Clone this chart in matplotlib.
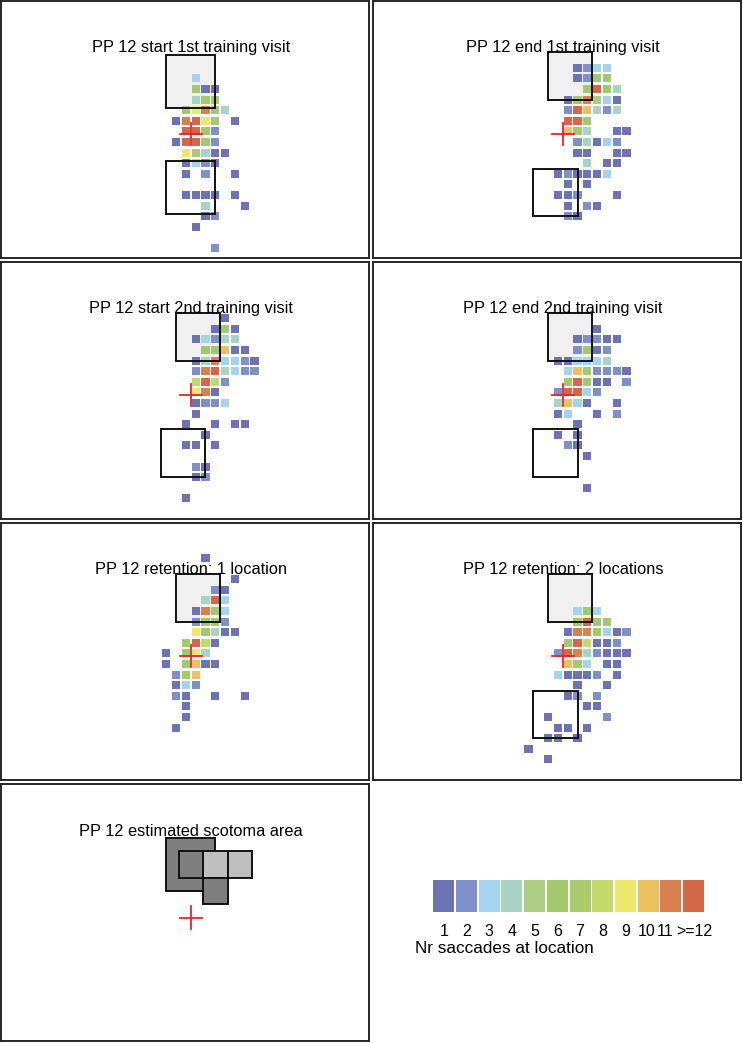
import numpy as np
import matplotlib.pyplot as plt
from matplotlib.patches import Rectangle

plt.rcParams['font.family'] = ['Liberation Sans', 'DejaVu Sans']

# colour scale: number of saccades landing in a 1x1 deg bin
count_labels = ['1', '2', '3', '4', '5', '6', '7', '8', '9', '10', '11', '>=12']
count_colors = ['#6d72b2', '#7e90c6', '#a5d3ee', '#a8d3c5', '#abcd84', '#a4c86d',
                '#aecb6c', '#c5d86c', '#ede86c', '#edc05f', '#d97f50', '#d4664a']

titles = ['PP 12 start 1st training visit', 'PP 12 end 1st training visit',
          'PP 12 start 2nd training visit', 'PP 12 end 2nd training visit',
          'PP 12 retention: 1 location', 'PP 12 retention: 2 locations',
          'PP 12 estimated scotoma area']

# (column bin, row bin, count) -- bin 0 is just right of / at fixation
start1 = [(0, 5, 3),
          (0, 4, 6), (1, 4, 1), (2, 4, 1),
          (0, 3, 4), (1, 3, 6), (2, 3, 6),
          (-1, 2, 6), (0, 2, 9), (1, 2, 11), (2, 2, 6), (3, 2, 4),
          (-2, 1, 1), (-1, 1, 11), (0, 1, 12), (1, 1, 9), (2, 1, 6), (4, 1, 1),
          (-1, 0, 12), (0, 0, 12), (1, 0, 6), (2, 0, 2),
          (-2, -1, 1), (-1, -1, 12), (0, -1, 12), (1, -1, 6), (2, -1, 2),
          (-1, -2, 9), (0, -2, 7), (1, -2, 4), (2, -2, 1), (3, -2, 1),
          (-1, -3, 1), (0, -3, 3), (1, -3, 2), (2, -3, 1),
          (-1, -4, 1), (1, -4, 2), (4, -4, 1),
          (-1, -6, 1), (0, -6, 1), (1, -6, 1), (2, -6, 1), (4, -6, 1),
          (1, -7, 4), (5, -7, 1),
          (1, -8, 1), (2, -8, 2),
          (0, -9, 1),
          (2, -11, 2)]

end1 = [(1, 6, 1), (2, 6, 2), (3, 6, 3), (4, 6, 3),
        (1, 5, 1), (2, 5, 2), (3, 5, 6), (4, 5, 6),
        (2, 4, 6), (3, 4, 12), (4, 4, 6), (5, 4, 4),
        (0, 3, 1), (1, 3, 6), (2, 3, 11), (3, 3, 5), (4, 3, 3), (5, 3, 1),
        (0, 2, 2), (1, 2, 12), (2, 2, 10), (3, 2, 4), (4, 2, 2), (5, 2, 4),
        (0, 1, 12), (1, 1, 12), (2, 1, 6),
        (0, 0, 10), (1, 0, 6), (2, 0, 4), (5, 0, 1), (6, 0, 1),
        (1, -1, 2), (2, -1, 4), (3, -1, 1), (4, -1, 3), (5, -1, 2),
        (1, -2, 1), (2, -2, 1), (5, -2, 1), (6, -2, 1),
        (2, -3, 4), (4, -3, 1), (5, -3, 1),
        (-1, -4, 1), (0, -4, 2), (1, -4, 1), (2, -4, 1), (3, -4, 1), (4, -4, 3),
        (0, -5, 1), (2, -5, 1),
        (-1, -6, 1), (0, -6, 1), (1, -6, 2), (5, -6, 1),
        (0, -7, 1), (2, -7, 2), (3, -7, 1),
        (0, -8, 2), (1, -8, 1)]

start2 = [(3, 7, 1),
          (2, 6, 1), (3, 6, 6), (4, 6, 1),
          (0, 5, 1), (1, 5, 3), (2, 5, 2), (3, 5, 4), (4, 5, 4),
          (1, 4, 6), (2, 4, 6), (3, 4, 10), (4, 4, 1), (5, 4, 1),
          (0, 3, 1), (1, 3, 4), (2, 3, 11), (3, 3, 3), (4, 3, 3), (5, 3, 2), (6, 3, 1),
          (0, 2, 2), (1, 2, 11), (2, 2, 12), (3, 2, 4), (4, 2, 3), (5, 2, 2), (6, 2, 2),
          (0, 1, 8), (1, 1, 12), (2, 1, 8), (3, 1, 2),
          (0, 0, 9), (1, 0, 11), (2, 0, 1),
          (0, -1, 1), (1, -1, 2), (2, -1, 2), (3, -1, 3),
          (0, -2, 1),
          (-1, -3, 1), (2, -3, 1), (4, -3, 1), (5, -3, 1),
          (1, -4, 1),
          (-1, -5, 1), (0, -5, 1), (2, -5, 1),
          (0, -7, 2), (1, -7, 1),
          (0, -8, 1), (1, -8, 2),
          (-1, -10, 1)]

end2 = [(3, 6, 1),
        (1, 5, 1), (2, 5, 2), (3, 5, 2), (4, 5, 1), (5, 5, 1),
        (1, 4, 2), (2, 4, 6), (3, 4, 1), (4, 4, 2),
        (-1, 3, 1), (0, 3, 1), (1, 3, 3), (2, 3, 3), (3, 3, 3), (4, 3, 4),
        (0, 2, 3), (1, 2, 10), (2, 2, 6), (3, 2, 2), (4, 2, 2), (5, 2, 2), (6, 2, 1),
        (0, 1, 6), (1, 1, 12), (2, 1, 6), (3, 1, 1), (4, 1, 1), (6, 1, 2),
        (-1, 0, 2), (0, 0, 12), (1, 0, 12), (2, 0, 3), (3, 0, 2),
        (-1, -1, 4), (0, -1, 10), (1, -1, 3), (2, -1, 1), (5, -1, 1),
        (-1, -2, 1), (0, -2, 3), (3, -2, 1), (5, -2, 2),
        (1, -3, 1),
        (-1, -4, 1), (1, -4, 1),
        (0, -5, 2), (1, -5, 1),
        (2, -6, 1),
        (2, -9, 1)]

ret1 = [(1, 9, 1),
        (4, 7, 1),
        (2, 6, 2), (3, 6, 1),
        (1, 5, 4), (2, 5, 12), (3, 5, 3),
        (0, 4, 1), (1, 4, 11), (2, 4, 6), (3, 4, 3),
        (0, 3, 2), (1, 3, 6), (2, 3, 6), (3, 3, 2),
        (0, 2, 9), (1, 2, 6), (2, 2, 4), (3, 2, 1), (4, 2, 1),
        (-1, 1, 6), (0, 1, 12), (1, 1, 8), (2, 1, 1),
        (-3, 0, 1), (-1, 0, 6), (0, 0, 9), (1, 0, 4),
        (-3, -1, 1), (-1, -1, 6), (0, -1, 10), (1, -1, 1), (2, -1, 1),
        (-2, -2, 2), (-1, -2, 6), (0, -2, 10),
        (-2, -3, 1), (-1, -3, 3), (0, -3, 2),
        (-2, -4, 2), (-1, -4, 1), (2, -4, 1), (5, -4, 1),
        (-1, -5, 1),
        (-1, -6, 1),
        (-2, -7, 1)]

ret2 = [(1, 4, 3), (2, 4, 6), (3, 4, 3),
        (1, 3, 6), (2, 3, 12), (3, 3, 6), (4, 3, 6),
        (0, 2, 1), (1, 2, 11), (2, 2, 11), (3, 2, 6), (4, 2, 3), (5, 2, 1), (6, 2, 2),
        (0, 1, 6), (1, 1, 12), (2, 1, 8), (3, 1, 1), (4, 1, 1), (5, 1, 2),
        (-1, 0, 2), (0, 0, 12), (1, 0, 11), (2, 0, 4), (3, 0, 2), (4, 0, 1), (5, 0, 1), (6, 0, 1),
        (0, -1, 10), (1, -1, 6), (2, -1, 3), (4, -1, 1), (5, -1, 1),
        (-1, -2, 3), (0, -2, 1), (1, -2, 1), (2, -2, 1), (3, -2, 2), (5, -2, 1),
        (1, -3, 1), (4, -3, 1),
        (0, -4, 1), (1, -4, 2), (3, -4, 2),
        (2, -5, 1), (3, -5, 1),
        (-2, -6, 1), (4, -6, 2),
        (-1, -7, 1), (0, -7, 1), (2, -7, 1),
        (-2, -8, 1), (-1, -8, 1), (1, -8, 1),
        (-4, -9, 1),
        (-2, -10, 1)]

# training locations (x0, y0, width, height) in degrees
loc1_upper = (-2.5, 2.5, 5.0, 5.0)
loc1_lower = (-2.5, -7.5, 5.0, 5.0)
loc2_upper = (-1.5, 3.2, 4.5, 4.5)
loc2_lower = (-3.0, -7.75, 4.5, 4.5)

# estimated scotoma: (x0, y0, size, grey)
scotoma = [(-2.5, 2.5, 5.0, '#7f7f7f'),
           (-1.25, 3.75, 2.5, '#7f7f7f'),
           (1.25, 3.75, 2.5, '#bfbfbf'),
           (3.75, 3.75, 2.5, '#bfbfbf'),
           (1.25, 1.25, 2.5, '#7f7f7f')]

panels = [(start1, loc1_upper, loc1_lower),
          (end1, loc2_upper, loc2_lower),
          (start2, loc2_upper, loc2_lower),
          (end2, loc2_upper, loc2_lower),
          (ret1, loc2_upper, None),
          (ret2, loc2_upper, loc2_lower)]

W, H = 743, 1043
fig = plt.figure(figsize=(W / 100, H / 100), dpi=100)

def px_axes(left, top, width, height):
    return fig.add_axes([left / W, 1 - (top + height) / H, width / W, height / H])

lefts = [0.8, 372.8]
tops = [0.8, 261.7, 522.8, 784.3]
pw, ph = 368, 257
fx, fy = 190, 133.3      # fixation position inside a panel (px)
sx, sy = 9.8, 10.6       # px per degree

def setup(ax):
    ax.set_xlim(-fx / sx, (pw - fx) / sx)
    ax.set_ylim(-(ph - fy) / sy, fy / sy)
    ax.set_xticks([])
    ax.set_yticks([])
    for s in ax.spines.values():
        s.set_linewidth(1.4)
        s.set_color('#262626')

def cross(ax):
    ax.plot([-1.1, 1.1], [0, 0], color='#e0262b', lw=1.3, zorder=5)
    ax.plot([0, 0], [-1.05, 1.05], color='#e0262b', lw=1.3, zorder=5)

for i in range(7):
    ax = px_axes(lefts[i % 2], tops[i // 2], pw, ph)
    setup(ax)
    ax.text(0, 7.7, titles[i], ha='center', va='baseline', fontsize=11.8, zorder=6)
    if i < 6:
        cells, up, lo = panels[i]
        x0, y0, w, h = up
        ax.add_patch(Rectangle((x0, y0), w, h, facecolor='#f0f0f0', edgecolor='none', zorder=1))
        ax.add_patch(Rectangle((x0, y0), w, h, facecolor='none', edgecolor='#111111', lw=1.4, zorder=4))
        if lo is not None:
            x0, y0, w, h = lo
            ax.add_patch(Rectangle((x0, y0), w, h, facecolor='none', edgecolor='#111111', lw=1.4, zorder=4))
        cx = np.array([c[0] for c in cells]) + 0.5
        cy = np.array([c[1] for c in cells]) + 0.25
        cols = [count_colors[min(c[2], 12) - 1] for c in cells]
        ax.scatter(cx, cy, marker='s', s=34, c=cols, linewidths=0, zorder=2)
    else:
        for x0, y0, size, grey in scotoma:
            ax.add_patch(Rectangle((x0, y0), size, size, facecolor=grey,
                                   edgecolor='#111111', lw=1.4, zorder=2))
    cross(ax)

# colour legend
lax = px_axes(432.5, 880, 272.4, 32)
pos = np.arange(12) + 0.5
lax.bar(pos, 1, width=0.925, color=count_colors)
lax.set_xlim(0, 12)
lax.set_ylim(0, 1)
lax.axis('off')
nudge = [0] * 9 + [-0.06, -0.26, 0.02]
for p, d, lab in zip(pos, nudge, count_labels):
    lax.text(p + d, -0.62, lab, ha='center', va='center', fontsize=11.5)
lax.text(-0.77, -1.13, 'Nr saccades at location', ha='left', va='center', fontsize=12.3)

fig.savefig('out.png', dpi=100)
